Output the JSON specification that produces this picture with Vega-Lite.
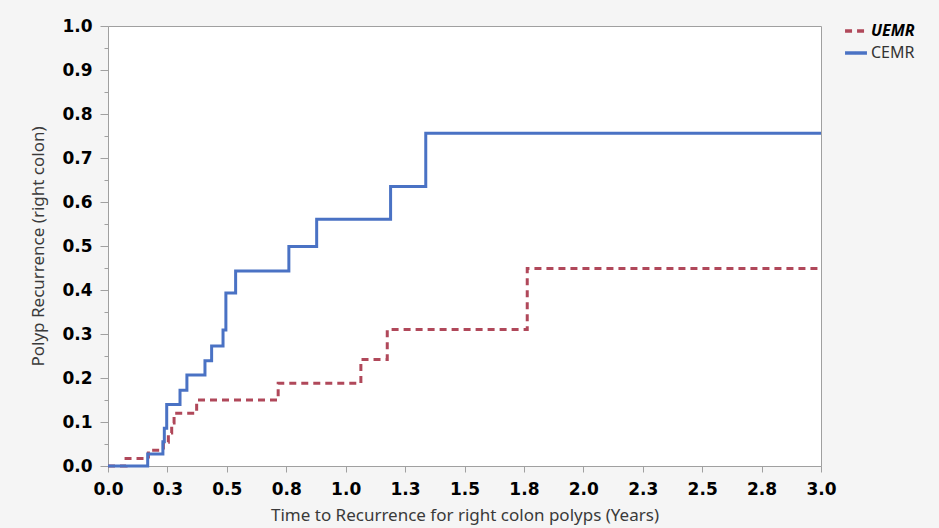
{
  "$schema": "https://vega.github.io/schema/vega-lite/v6.json",
  "width": 713,
  "height": 440,
  "autosize": {"type": "none"},
  "padding": {"left": 108, "top": 26, "right": 118, "bottom": 62},
  "background": "#f5f5f5",
  "config": {
    "view": {"stroke": "#a0a0a0", "fill": "white", "strokeWidth": 1},
    "axis": {
      "domainColor": "#a0a0a0",
      "tickColor": "#a0a0a0",
      "grid": false,
      "labelFont": "DejaVu Sans",
      "labelFontWeight": "bold",
      "labelFontSize": 17,
      "labelColor": "#000000",
      "labelFlush": false,
      "labelOverlap": false,
      "titleFont": "Noto Sans",
      "titleFontWeight": "normal",
      "titleFontSize": 17,
      "titleColor": "#3a3a3a"
    }
  },
  "data": {
    "values": [
      {"series": "UEMR", "t": 0, "p": 0},
      {"series": "UEMR", "t": 0.076, "p": 0.017},
      {"series": "UEMR", "t": 0.17, "p": 0.036},
      {"series": "UEMR", "t": 0.233, "p": 0.054},
      {"series": "UEMR", "t": 0.254, "p": 0.075},
      {"series": "UEMR", "t": 0.268, "p": 0.098},
      {"series": "UEMR", "t": 0.278, "p": 0.12},
      {"series": "UEMR", "t": 0.373, "p": 0.15},
      {"series": "UEMR", "t": 0.716, "p": 0.188},
      {"series": "UEMR", "t": 1.064, "p": 0.242},
      {"series": "UEMR", "t": 1.175, "p": 0.31},
      {"series": "UEMR", "t": 1.764, "p": 0.449},
      {"series": "UEMR", "t": 3.0, "p": 0.449},
      {"series": "CEMR", "t": 0, "p": 0},
      {"series": "CEMR", "t": 0.167, "p": 0.027},
      {"series": "CEMR", "t": 0.231, "p": 0.055},
      {"series": "CEMR", "t": 0.237, "p": 0.086},
      {"series": "CEMR", "t": 0.247, "p": 0.14},
      {"series": "CEMR", "t": 0.303, "p": 0.172},
      {"series": "CEMR", "t": 0.332, "p": 0.207},
      {"series": "CEMR", "t": 0.408, "p": 0.239},
      {"series": "CEMR", "t": 0.436, "p": 0.273},
      {"series": "CEMR", "t": 0.484, "p": 0.309},
      {"series": "CEMR", "t": 0.496, "p": 0.393},
      {"series": "CEMR", "t": 0.537, "p": 0.443},
      {"series": "CEMR", "t": 0.761, "p": 0.499},
      {"series": "CEMR", "t": 0.878, "p": 0.561},
      {"series": "CEMR", "t": 1.189, "p": 0.635},
      {"series": "CEMR", "t": 1.337, "p": 0.756},
      {"series": "CEMR", "t": 3.0, "p": 0.756}
    ]
  },
  "layer": [
    {
      "mark": {"type": "rule", "opacity": 0},
      "encoding": {
        "y": {
          "field": "p",
          "type": "quantitative",
          "scale": {"domain": [0, 1], "nice": false},
          "axis": {
            "orient": "left",
            "values": [0.05, 0.15, 0.25, 0.35, 0.45, 0.55, 0.65, 0.75, 0.85, 0.95],
            "labels": false,
            "tickSize": 4,
            "domain": false,
            "title": null
          }
        }
      }
    },
    {
      "mark": {"type": "line", "interpolate": "step-after", "strokeWidth": 3},
      "encoding": {
        "x": {
          "field": "t",
          "type": "quantitative",
          "scale": {"domain": [0, 3], "nice": false},
          "axis": {
            "values": [0, 0.25, 0.5, 0.75, 1, 1.25, 1.5, 1.75, 2, 2.25, 2.5, 2.75, 3],
            "format": ".1f",
            "tickSize": 6,
            "labelPadding": 9,
            "titlePadding": 10,
            "title": "Time to Recurrence for right colon polyps (Years)"
          }
        },
        "y": {
          "field": "p",
          "type": "quantitative",
          "scale": {"domain": [0, 1], "nice": false},
          "axis": {
            "orient": "left",
            "values": [0, 0.1, 0.2, 0.3, 0.4, 0.5, 0.6, 0.7, 0.8, 0.9, 1],
            "format": ".1f",
            "tickSize": 8,
            "labelPadding": 8,
            "titlePadding": 14,
            "title": "Polyp Recurrence (right colon)"
          }
        },
        "color": {
          "field": "series",
          "type": "nominal",
          "scale": {"domain": ["UEMR", "CEMR"], "range": ["#b0485a", "#4a72c4"]},
          "legend": {
            "orient": "none",
            "legendX": 735,
            "legendY": -8,
            "title": null,
            "labelFont": "Noto Sans",
            "labelFontSize": 16,
            "symbolType": "stroke",
            "symbolSize": 480,
            "symbolStrokeWidth": 3.5,
            "rowPadding": 1,
            "labelOffset": 2,
            "encode": {
              "labels": {
                "update": {
                  "fontWeight": {"signal": "datum.label === 'UEMR' ? 'bold' : 'normal'"},
                  "fontStyle": {"signal": "datum.label === 'UEMR' ? 'italic' : 'normal'"},
                  "fill": {"signal": "datum.label === 'UEMR' ? '#000000' : '#333333'"}
                }
              }
            }
          }
        },
        "strokeDash": {
          "field": "series",
          "type": "nominal",
          "scale": {"domain": ["UEMR", "CEMR"], "range": [[7, 5], [1, 0]]},
          "legend": {
            "orient": "none",
            "legendX": 735,
            "legendY": -8,
            "title": null,
            "labelFont": "Noto Sans",
            "labelFontSize": 16,
            "symbolType": "stroke",
            "symbolSize": 480,
            "symbolStrokeWidth": 3.5,
            "rowPadding": 1,
            "labelOffset": 2,
            "encode": {
              "labels": {
                "update": {
                  "fontWeight": {"signal": "datum.label === 'UEMR' ? 'bold' : 'normal'"},
                  "fontStyle": {"signal": "datum.label === 'UEMR' ? 'italic' : 'normal'"},
                  "fill": {"signal": "datum.label === 'UEMR' ? '#000000' : '#333333'"}
                }
              }
            }
          }
        }
      }
    }
  ],
  "resolve": {"axis": {"y": "independent"}}
}
